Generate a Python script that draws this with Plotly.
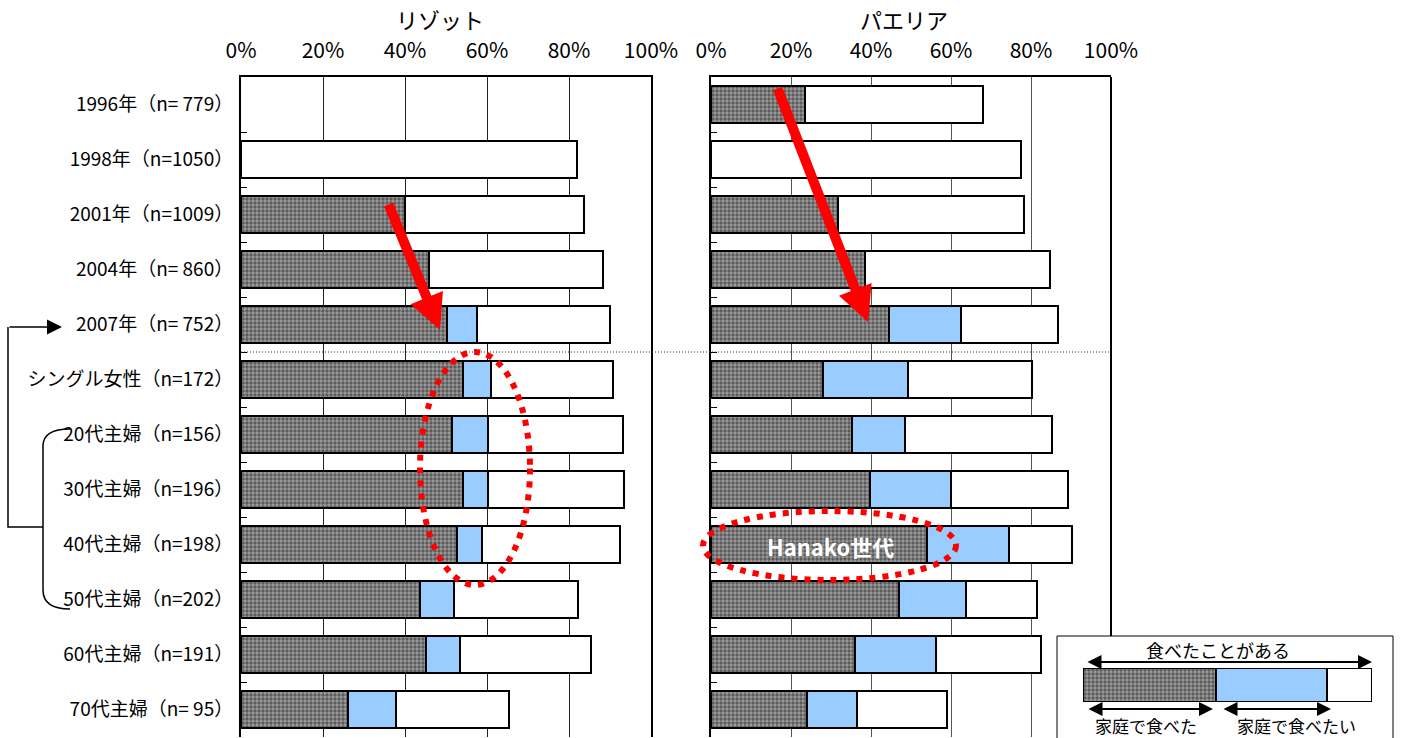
import plotly.graph_objects as go

W, H = 1403, 738

# ---------------- data ----------------
categories = ["1996年（n= 779）", "1998年（n=1050）", "2001年（n=1009）", "2004年（n= 860）",
              "2007年（n= 752）", "シングル女性（n=172）", "20代主婦（n=156）", "30代主婦（n=196）",
              "40代主婦（n=198）", "50代主婦（n=202）", "60代主婦（n=191）", "70代主婦（n= 95）"]

# リゾット (risotto)
risotto_home_ate = [None, None, 40.0, 45.9, 50.3, 54.1, 51.4, 54.1, 52.6, 43.7, 45.0, 26.2]
risotto_home_want = [None, None, None, None, 7.3, 6.9, 8.9, 6.1, 6.1, 8.3, 8.4, 11.6]
risotto_ever_ate = [None, 81.9, 83.7, 88.2, 90.0, 90.8, 93.1, 93.5, 92.4, 82.3, 85.4, 65.4]

# パエリア (paella)
paella_home_ate = [23.6, None, 31.8, 38.6, 44.5, 27.9, 35.2, 39.7, 53.9, 46.9, 36.0, 24.1]
paella_home_want = [None, None, None, None, 17.9, 21.4, 13.4, 20.4, 20.7, 16.8, 20.3, 12.5]
paella_ever_ate = [68.0, 77.6, 78.2, 84.8, 86.7, 80.2, 85.2, 89.3, 90.3, 81.5, 82.6, 58.9]

x_ticks = [0, 20, 40, 60, 80, 100]
x_ticklabels = ["0%", "20%", "40%", "60%", "80%", "100%"]

# legend sample bar
legend_sample = [46.0, 38.4, 15.6]


def remainder(total, ate, want):
    out = []
    for t, a, w in zip(total, ate, want):
        out.append(None if t is None else round(t - (a or 0) - (w or 0), 1))
    return out


# ---------------- styles ----------------
FONT = "Noto Sans CJK JP, sans-serif"
HATCH = dict(color="#9c9c9c", line=dict(color="black", width=2),
             pattern=dict(shape=".", fgcolor="#1a1a1a", bgcolor="#9c9c9c", size=4, solidity=0.55))
BLUE = dict(color="#99CCFF", line=dict(color="black", width=2))
WHITE = dict(color="white", line=dict(color="black", width=2))


def px(x):
    return x / W


def py(y):
    return 1 - y / H


fig = go.Figure()

for ate, want, total, xa, ya in [
    (risotto_home_ate, risotto_home_want, risotto_ever_ate, "x", "y"),
    (paella_home_ate, paella_home_want, paella_ever_ate, "x2", "y2"),
]:
    rest = remainder(total, ate, want)
    fig.add_trace(go.Bar(y=categories, x=ate, orientation="h", marker=HATCH,
                         xaxis=xa, yaxis=ya, showlegend=False, hoverinfo="skip"))
    fig.add_trace(go.Bar(y=categories, x=want, orientation="h", marker=BLUE,
                         xaxis=xa, yaxis=ya, showlegend=False, hoverinfo="skip"))
    fig.add_trace(go.Bar(y=categories, x=rest, orientation="h", marker=WHITE,
                         xaxis=xa, yaxis=ya, showlegend=False, hoverinfo="skip"))

# legend sample bar (its own little axis)
for val, mk in zip(legend_sample, [HATCH, BLUE, WHITE]):
    fig.add_trace(go.Bar(y=[0], x=[val], width=[1], orientation="h", marker=mk,
                         xaxis="x3", yaxis="y3", showlegend=False, hoverinfo="skip"))

ydom = [py(737), py(77)]
common_x = dict(range=[0, 100], side="top", tickvals=x_ticks, ticktext=x_ticklabels,
                showline=True, linecolor="black", linewidth=2, mirror=False,
                showgrid=True, gridwidth=1, ticks="", ticklabelstandoff=9, automargin=False,
                tickfont=dict(family=FONT, size=21, color="black"), zeroline=False, fixedrange=True)

fig.update_layout(
    width=W, height=H,
    margin=dict(l=0, r=0, t=0, b=0, autoexpand=False),
    paper_bgcolor="white", plot_bgcolor="rgba(0,0,0,0)",
    barmode="stack", bargap=0.345,
    xaxis=dict(domain=[px(241), px(651)], anchor="y", gridcolor="#222222", **common_x),
    xaxis2=dict(domain=[px(711), px(1111)], anchor="y2", gridcolor="#555555", **common_x),
    yaxis=dict(domain=ydom, anchor="x", autorange="reversed", type="category",
               showline=True, linecolor="black", linewidth=2, mirror=True, automargin=False,
               ticks="inside", tickson="boundaries", ticklen=6, tickcolor="black",
               ticklabelstandoff=2, tickfont=dict(family=FONT, size=19, color="black"),
               showgrid=False, fixedrange=True),
    yaxis2=dict(domain=ydom, anchor="x2", autorange="reversed", type="category",
                showline=True, linecolor="black", linewidth=2, mirror=False, automargin=False,
                ticks="inside", tickson="boundaries", ticklen=6, tickcolor="black",
                showticklabels=False, showgrid=False, fixedrange=True),
    xaxis3=dict(domain=[px(1083), px(1372)], anchor="y3", range=[0, 100], visible=False,
                automargin=False, fixedrange=True),
    yaxis3=dict(domain=[py(702), py(668)], anchor="x3", range=[-0.5, 0.5], visible=False,
                automargin=False, fixedrange=True),
    font=dict(family=FONT, color="black"),
)

shapes = []
# right border of paella panel stops at the legend box
shapes.append(dict(type="line", xref="paper", yref="paper", x0=px(1111), x1=px(1111),
                   y0=py(77), y1=py(636), line=dict(color="black", width=2)))
# dotted separator between years and segments
shapes.append(dict(type="line", xref="paper", yref="paper", x0=px(241), x1=px(1111),
                   y0=py(352), y1=py(352), line=dict(color="#333333", width=1, dash="1px,2px"),
                   layer="above"))
# legend box
shapes.append(dict(type="rect", xref="paper", yref="paper", x0=px(1057), x1=px(1393),
                   y0=py(745), y1=py(636), line=dict(color="black", width=1),
                   fillcolor="white", layer="below"))
# red dotted ellipses
shapes.append(dict(type="circle", xref="paper", yref="paper", x0=px(420), x1=px(530),
                   y0=py(585), y1=py(352), line=dict(color="#ff0000", width=6, dash="6px,7px"),
                   layer="above"))
shapes.append(dict(type="circle", xref="paper", yref="paper", x0=px(703), x1=px(956),
                   y0=py(580), y1=py(511), line=dict(color="#ff0000", width=6, dash="6px,7px"),
                   layer="above"))


def P(x, y):
    return f"{px(x):.5f},{py(y):.5f}"


# bracket connecting 20-50代 to 2007
shapes.append(dict(type="path", xref="paper", yref="paper",
                   path=f"M{P(8,327)} L{P(8,527)} L{P(43,527)}",
                   line=dict(color="black", width=1.5)))
shapes.append(dict(type="path", xref="paper", yref="paper",
                   path=f"M{P(70,429)} Q{P(43,429)} {P(43,446)} L{P(43,590)} Q{P(43,609)} {P(70,609)}",
                   line=dict(color="black", width=1.5)))
fig.update_layout(shapes=shapes)


def label(text, x, y, size, color="black", family=FONT):
    return dict(text=text, x=px(x), y=py(y), xref="paper", yref="paper",
                xanchor="center", yanchor="middle", showarrow=False, borderpad=0,
                font=dict(family=family, size=size, color=color))


def arrow(x_tip, y_tip, x_tail, y_tail, **kw):
    d = dict(text="", x=px(x_tip), y=py(y_tip), xref="paper", yref="paper",
             ax=x_tail - x_tip, ay=y_tail - y_tip, showarrow=True)
    d.update(kw)
    return d


ann = []
ann.append(label("リゾット", 440, 19, 22))
ann.append(label("パエリア", 904, 19, 22))
# red arrows
ann.append(arrow(440, 330, 388, 203, arrowhead=2, arrowsize=0.7, arrowwidth=10, arrowcolor="#ff0000"))
ann.append(arrow(868, 322, 777, 87, arrowhead=2, arrowsize=0.7, arrowwidth=10, arrowcolor="#ff0000"))
# bracket arrow to 2007
ann.append(arrow(62, 327, 8, 327, arrowhead=2, arrowsize=2, arrowwidth=1.5, arrowcolor="black"))
# Hanako label
ann.append(label("<b>Hanako世代</b>", 830, 546, 22, color="white"))
# legend texts and arrows
ann.append(label("食べたことがある", 1218, 650, 18))
ann.append(label("家庭で食べた", 1146, 725, 17))
ann.append(label("家庭で食べたい", 1296, 725, 17))
for x0, x1, yy in [(1086, 1372, 662), (1087, 1213, 709), (1222, 1331, 709)]:
    ann.append(arrow(x1, yy, x0, yy, arrowhead=2, arrowsize=1.4, startarrowhead=2,
                     startarrowsize=1.4, arrowside="end+start", arrowwidth=2, arrowcolor="black"))
fig.update_layout(annotations=ann)

fig.write_html("out.html")
